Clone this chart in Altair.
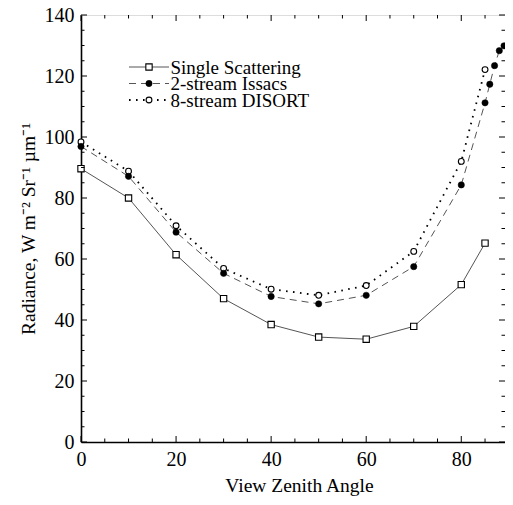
import altair as alt
import pandas as pd

# ---- data ----
angles_main = [0, 10, 20, 30, 40, 50, 60, 70, 80, 85]
single_scattering = [89.6, 80.0, 61.4, 47.0, 38.5, 34.4, 33.7, 37.9, 51.6, 65.2]
disort_8stream = [98.4, 88.8, 70.9, 56.9, 50.1, 48.1, 51.3, 62.5, 92.0, 122.1]
angles_issacs = [0, 10, 20, 30, 40, 50, 60, 70, 80, 85, 86, 87, 88, 89]
issacs_2stream = [96.9, 87.1, 68.8, 55.3, 47.7, 45.3, 48.1, 57.5, 84.3, 111.2, 117.3, 123.4, 128.3, 129.9]

x_major = [0, 20, 40, 60, 80]
x_minor = [5, 10, 15, 25, 30, 35, 45, 50, 55, 65, 70, 75, 85]
y_major = [0, 20, 40, 60, 80, 100, 120, 140]
y_minor = [5, 10, 15, 25, 30, 35, 45, 50, 55, 65, 70, 75, 85, 90, 95,
           105, 110, 115, 125, 130, 135]

legend_labels = ["Single Scattering", "2-stream Issacs", "8-stream DISORT"]

FONT = "Liberation Serif"
W, H = 424, 427
X_DOMAIN = [0, 89.2]
Y_DOMAIN = [0, 140]

x_axis = alt.Axis(values=x_major, ticks=False, grid=False, domain=True,
                  domainColor="black", domainWidth=1.6, labelFlush=False,
                  labelFont=FONT, labelFontSize=20, labelColor="black",
                  labelPadding=7, title="View Zenith Angle", titleFont=FONT,
                  titleFontSize=19.5, titleFontWeight="normal", titleColor="black",
                  titleX=218, titleY=49, titleBaseline="alphabetic", titleAlign="center")
y_axis = alt.Axis(values=y_major, ticks=False, grid=False, domain=True,
                  domainColor="black", domainWidth=1.6, labelFlush=False,
                  labelFont=FONT, labelFontSize=20, labelColor="black",
                  labelPadding=7, title="Radiance, W m\u207b\u00b2 Sr\u207b\u00b9 \u00b5m\u207b\u00b9",
                  titleFont=FONT, titleFontSize=19.5, titleFontWeight="normal",
                  titleColor="black", titleX=-46.5, titleY=H / 2, titleAngle=270,
                  titleBaseline="alphabetic", titleAlign="center")


def X(field="x"):
    return alt.X(f"{field}:Q", scale=alt.Scale(domain=X_DOMAIN, nice=False, zero=False), axis=x_axis)


def Y(field="y"):
    return alt.Y(f"{field}:Q", scale=alt.Scale(domain=Y_DOMAIN, nice=False, zero=False), axis=y_axis)


df_single = pd.DataFrame({"x": angles_main, "y": single_scattering})
df_disort = pd.DataFrame({"x": angles_main, "y": disort_8stream})
df_issacs = pd.DataFrame({"x": angles_issacs, "y": issacs_2stream})

DASH = [7, 5]
DOT = [1.6, 5.4]

layers = []
# lines
layers.append(alt.Chart(df_single).mark_line(color="#555", strokeWidth=1)
              .encode(x=X(), y=Y()))
layers.append(alt.Chart(df_issacs).mark_line(color="#555", strokeWidth=1, strokeDash=DASH)
              .encode(x=X(), y=Y()))
layers.append(alt.Chart(df_disort).mark_line(color="black", strokeWidth=1.8, strokeDash=DOT)
              .encode(x=X(), y=Y()))
# markers
layers.append(alt.Chart(df_single).mark_point(shape="square", size=40, filled=True, fill="white",
                                              stroke="black", strokeWidth=1.1, opacity=1)
              .encode(x=X(), y=Y()))
layers.append(alt.Chart(df_disort).mark_point(shape="circle", size=34, filled=True, fill="white",
                                              stroke="black", strokeWidth=1.1, opacity=1)
              .encode(x=X(), y=Y()))
layers.append(alt.Chart(df_issacs).mark_point(shape="circle", size=40, filled=True, fill="black",
                                              stroke="black", strokeWidth=0.5, opacity=1)
              .encode(x=X(), y=Y()))

# inward ticks on all four sides
for vals, ln in ((x_major, 6), (x_minor, 3.5)):
    d = pd.DataFrame({"x": vals})
    layers.append(alt.Chart(d).mark_rule(color="black", strokeWidth=1)
                  .encode(x=X(), y=alt.value(H), y2=alt.value(H - ln)))
    layers.append(alt.Chart(d).mark_rule(color="black", strokeWidth=1)
                  .encode(x=X(), y=alt.value(0), y2=alt.value(ln)))
for vals, ln in ((y_major, 6), (y_minor, 3.5)):
    d = pd.DataFrame({"y": vals})
    layers.append(alt.Chart(d).mark_rule(color="black", strokeWidth=1)
                  .encode(y=Y(), x=alt.value(0), x2=alt.value(ln)))
    layers.append(alt.Chart(d).mark_rule(color="black", strokeWidth=1)
                  .encode(y=Y(), x=alt.value(W), x2=alt.value(W - ln)))

# legend (drawn manually so each entry shows line + marker)
legend_rows = [52.0, 68.5, 85.0]
legend_styles = [
    dict(line=dict(color="#555", strokeWidth=1),
         pt=dict(shape="square", size=40, filled=True, fill="white", stroke="black", strokeWidth=1.1)),
    dict(line=dict(color="#555", strokeWidth=1, strokeDash=DASH),
         pt=dict(shape="circle", size=40, filled=True, fill="black", stroke="black", strokeWidth=0.5)),
    dict(line=dict(color="black", strokeWidth=1.8, strokeDash=DOT),
         pt=dict(shape="circle", size=34, filled=True, fill="white", stroke="black", strokeWidth=1.1)),
]
for label, yy, st in zip(legend_labels, legend_rows, legend_styles):
    d = pd.DataFrame({"label": [label]})
    layers.append(alt.Chart(d).mark_rule(**st["line"])
                  .encode(x=alt.value(48), x2=alt.value(88), y=alt.value(yy)))
    layers.append(alt.Chart(d).mark_point(opacity=1, **st["pt"])
                  .encode(x=alt.value(68), y=alt.value(yy)))
    layers.append(alt.Chart(d).mark_text(font=FONT, fontSize=19, align="left", baseline="middle",
                                         color="black")
                  .encode(x=alt.value(89.5), y=alt.value(yy + 0.5), text="label:N"))

chart = alt.layer(*layers).properties(
    width=W, height=H,
    autosize=alt.AutoSizeParams(type="none"),
    padding={"left": 73, "top": 7, "right": 0, "bottom": 54},
).configure_view(stroke="black", strokeWidth=1.2).configure(background="white")

chart.save("out.html", embed_options={"renderer": "svg", "actions": False})
